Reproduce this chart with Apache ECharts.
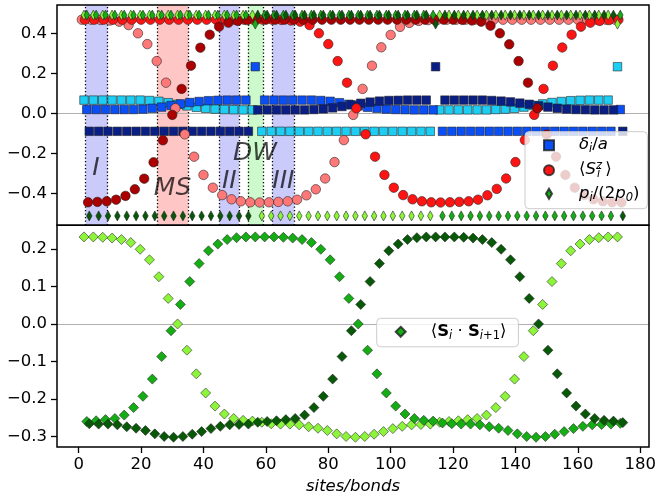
<!DOCTYPE html>
<html>
<head>
<meta charset="utf-8">
<script src="https://cdn.jsdelivr.net/npm/echarts@6/dist/echarts.min.js"></script>
<style>
  html, body { margin: 0; padding: 0; background: #fff; }
  #chart { width: 656px; height: 500px; }
</style>
</head>
<body>
<div id="chart"></div>
<script>
// x position of the first site / bond of each sublattice, one cell = 3 sites
const siteOffsets = [1, 2, 3];
const bondOffsets = [1.7, 2.6, 3.4];

// delta_i / a  (squares), one array per sublattice
const deltaC = [0.066, 0.066, 0.066, 0.066, 0.066, 0.066, 0.066,
  0.064, 0.060, 0.053, 0.045, 0.037, 0.030, 0.025, 0.021, 0.019, 0.018, 0.017, 0.017,
  -0.090, -0.090, -0.090, -0.090, -0.090, -0.090, -0.090, -0.090, -0.090, -0.090,
  -0.090, -0.090, -0.090, -0.090, -0.090, -0.090, -0.090, -0.090, -0.090,
  0.017, 0.017, 0.017, 0.017, 0.017, 0.017,
  0.019, 0.021, 0.025, 0.031, 0.039, 0.047, 0.054, 0.059, 0.063, 0.065, 0.066, 0.066, 0.066,
  0.233];
const deltaB = [0.019, 0.019, 0.019, 0.019, 0.019, 0.019,
  0.021, 0.025, 0.031, 0.039, 0.047, 0.054, 0.059, 0.063, 0.065, 0.066, 0.066, 0.066,
  0.233,
  0.066, 0.066, 0.066, 0.066, 0.066, 0.066,
  0.064, 0.060, 0.053, 0.045, 0.037, 0.030, 0.025, 0.021, 0.019, 0.018, 0.017, 0.017, 0.017,
  -0.090, -0.090, -0.090, -0.090, -0.090, -0.090, -0.090, -0.090, -0.090, -0.090,
  -0.090, -0.090, -0.090, -0.090, -0.090, -0.090, -0.090, -0.090, -0.090,
  0.019];
const deltaN = [-0.090, -0.090, -0.090, -0.090, -0.090, -0.090, -0.090, -0.090, -0.090,
  -0.090, -0.090, -0.090, -0.090, -0.090, -0.090, -0.090, -0.090, -0.090,
  0.017, 0.017, 0.017, 0.017, 0.017, 0.017,
  0.019, 0.022, 0.027, 0.034, 0.042, 0.050, 0.056, 0.061, 0.064, 0.065, 0.066, 0.066, 0.066,
  0.233,
  0.066, 0.066, 0.066, 0.066, 0.066,
  0.064, 0.061, 0.057, 0.051, 0.045, 0.038, 0.031, 0.025, 0.021, 0.019, 0.018, 0.017, 0.017, 0.017,
  -0.090];

// <S^z_i> (circles)
const szPink = [0.468, 0.468, 0.467, 0.464, 0.458, 0.441, 0.400, 0.346, 0.261, 0.153,
  0.025, -0.105, -0.217, -0.308, -0.372, -0.409, -0.430, -0.440, -0.445, -0.446,
  -0.445, -0.443, -0.440, -0.432, -0.410, -0.380, -0.326, -0.244, -0.134, -0.008,
  0.122, 0.238, 0.330, 0.392, 0.432, 0.452, 0.462, 0.466,
  0.468, 0.468, 0.468, 0.468, 0.468, 0.468, 0.468, 0.468, 0.468, 0.468,
  0.468, 0.468, 0.468, 0.468, 0.468, 0.468, 0.468, 0.468, 0.468, 0.468];
const szRed = [0.468, 0.468, 0.468, 0.468, 0.468, 0.468, 0.468, 0.468, 0.468, 0.468,
  0.468, 0.468, 0.468, 0.468, 0.468, 0.468, 0.468, 0.468, 0.468, 0.468, 0.468,
  0.467, 0.464, 0.458, 0.441, 0.400, 0.346, 0.261, 0.153, 0.025, -0.105,
  -0.217, -0.308, -0.372, -0.409, -0.430, -0.440, -0.445, -0.446, -0.445, -0.443,
  -0.440, -0.432, -0.410, -0.378, -0.326, -0.244, -0.134, -0.008, 0.122, 0.238,
  0.329, 0.393, 0.433, 0.453, 0.462, 0.466, 0.468];
const szDark = [-0.445, -0.443, -0.440, -0.432, -0.413, -0.380, -0.327, -0.245, -0.135,
  -0.008, 0.122, 0.238, 0.328, 0.393, 0.433, 0.453, 0.462, 0.466,
  0.468, 0.468, 0.468, 0.468, 0.468, 0.468, 0.468, 0.468, 0.468, 0.468, 0.468,
  0.468, 0.468, 0.468, 0.468, 0.468, 0.468, 0.468, 0.468, 0.468, 0.468, 0.468,
  0.467, 0.464,
  0.458, 0.438, 0.400, 0.345, 0.261, 0.153, 0.025, -0.106, -0.217, -0.308,
  -0.372, -0.409, -0.430, -0.440, -0.445, -0.446];

// p_i / (2 p_0) (thin diamonds)
const pLight = [0.491, 0.491, 0.491, 0.491, 0.491, 0.491, 0.491, 0.491, 0.491, 0.491,
  0.491, 0.491, 0.491, 0.491, 0.491, 0.491, 0.491, 0.491, 0.491,
  -0.513, -0.513, -0.513, -0.513, -0.513, -0.513, -0.513, -0.513, -0.513, -0.513,
  -0.513, -0.513, -0.513, -0.513, -0.513, -0.513, -0.513, -0.513, -0.513,
  0.491, 0.491, 0.491, 0.491, 0.491, 0.491, 0.491, 0.491, 0.491, 0.491,
  0.491, 0.491, 0.491, 0.491, 0.491, 0.491, 0.491, 0.491, 0.491,
  0.446];
const pMid = [0.491, 0.491, 0.491, 0.491, 0.491, 0.491, 0.491, 0.491, 0.491,
  0.491, 0.491, 0.491, 0.491, 0.491, 0.491, 0.491, 0.491, 0.491,
  0.446,
  0.491, 0.491, 0.491, 0.491, 0.491, 0.491, 0.491, 0.491, 0.491, 0.491,
  0.491, 0.491, 0.491, 0.491, 0.491, 0.491, 0.491, 0.491, 0.491,
  -0.513, -0.513, -0.513, -0.513, -0.513, -0.513, -0.513, -0.513, -0.513, -0.513,
  -0.513, -0.513, -0.513, -0.513, -0.513, -0.513, -0.513, -0.513, -0.513,
  0.491];
const pDark = [-0.513, -0.513, -0.513, -0.513, -0.513, -0.513, -0.513, -0.513, -0.513,
  -0.513, -0.513, -0.513, -0.513, -0.513, -0.513, -0.513, -0.513, -0.513,
  0.491, 0.491, 0.491, 0.491, 0.491, 0.491, 0.491, 0.491, 0.491, 0.491,
  0.491, 0.491, 0.491, 0.491, 0.491, 0.491, 0.491, 0.491, 0.491,
  0.446,
  0.491, 0.491, 0.491, 0.491, 0.491, 0.491, 0.491, 0.491, 0.491, 0.491,
  0.491, 0.491, 0.491, 0.491, 0.491, 0.491, 0.491, 0.491, 0.491,
  -0.513];

// <S_i . S_i+1> on the bonds (lower panel)
const bondLight = [0.232, 0.232, 0.231, 0.229, 0.225, 0.217, 0.199, 0.171, 0.126, 0.068,
  0.000, -0.070, -0.133, -0.184, -0.219, -0.240, -0.252, -0.257, -0.259,
  -0.262, -0.266, -0.267, -0.267, -0.269, -0.274, -0.278, -0.284, -0.293, -0.300,
  -0.302, -0.300, -0.294, -0.287, -0.279, -0.273, -0.269, -0.268, -0.267,
  -0.262, -0.260, -0.258, -0.255, -0.252, -0.243, -0.223, -0.193, -0.147, -0.087,
  -0.018, 0.052, 0.113, 0.161, 0.195, 0.213, 0.225, 0.230, 0.232, 0.232];
const bondMid = [-0.260, -0.258, -0.255, -0.252, -0.243, -0.223, -0.193, -0.147, -0.087,
  -0.018, 0.052, 0.113, 0.161, 0.195, 0.213, 0.225, 0.230, 0.232, 0.232,
  0.232, 0.232, 0.231, 0.229, 0.225, 0.217, 0.199, 0.171, 0.126, 0.068,
  0.000, -0.070, -0.133, -0.184, -0.219, -0.240, -0.252, -0.257, -0.259,
  -0.264, -0.266, -0.267, -0.267, -0.269, -0.274, -0.278, -0.284, -0.293, -0.300,
  -0.302, -0.300, -0.294, -0.287, -0.279, -0.273, -0.269, -0.268, -0.267, -0.265];
const bondDark = [-0.266, -0.267, -0.267, -0.269, -0.274, -0.278, -0.284, -0.293, -0.300,
  -0.302, -0.300, -0.294, -0.287, -0.279, -0.273, -0.269, -0.268, -0.267,
  -0.262, -0.260, -0.258, -0.255, -0.252, -0.243, -0.223, -0.193, -0.147, -0.087,
  -0.018, 0.052, 0.113, 0.161, 0.195, 0.213, 0.225, 0.230, 0.232, 0.232,
  0.232, 0.232, 0.231, 0.229, 0.225, 0.217, 0.199, 0.171, 0.126, 0.068,
  0.000, -0.070, -0.133, -0.184, -0.219, -0.240, -0.252, -0.257, -0.259, -0.263];

// tick labels
const xTicks = [0, 20, 40, 60, 80, 100, 120, 140, 160, 180];
const yTicksTop = [-0.4, -0.2, 0, 0.2, 0.4];
const yTicksBottom = [-0.3, -0.2, -0.1, 0, 0.1, 0.2];

// shaded regions of the upper panel: [from, to, colour]
const regions = [
  [2.2, 9.3, '#cacafb'],
  [25.2, 35.2, '#ffc6c6'],
  [45.1, 51.4, '#cacafb'],
  [54.2, 59.2, '#ccfacc'],
  [62.1, 69.1, '#cacafb']
];
const regionNames = ['I', 'MS', 'II', 'DW', 'III'];
const regionNameX = [5.5, 30.1, 48.3, 56.5, 65.6];
const regionNameY = [-0.274, -0.378, -0.342, -0.2, -0.342];

const FONT = 'DejaVu Sans';
const sqColors = ['#1ccdf4', '#0a4ef5', '#0a1f86'];
const circColors = ['#ff7878', '#ff1414', '#ac0000'];
const diaColors = ['#8cf53a', '#14ad14', '#075807'];

const gridTop = { left: 57, top: 5, width: 592, height: 220.3 };
const gridBottom = { left: 57, top: 225.3, width: 592, height: 221.7 };

function scatter(name, grid, offset, values, symbol, size, color, z) {
    return {
        name: name,
        type: 'scatter',
        xAxisIndex: grid,
        yAxisIndex: grid,
        data: values.map((v, k) => [offset + 3 * k, v]),
        symbol: symbol,
        symbolSize: size,
        z: z,
        silent: true,
        emphasis: { disabled: true },
        itemStyle: { color: color, borderColor: 'rgba(30,30,30,0.8)', borderWidth: 0.7, opacity: 1 }
    };
}

const thinDiamond = [5.5, 10];
const series = [
    scatter('dC', 0, bondOffsets[0], deltaC, 'rect', 8.5, sqColors[0], 2),
    scatter('dB', 0, bondOffsets[1], deltaB, 'rect', 8.5, sqColors[1], 2),
    scatter('dN', 0, bondOffsets[2], deltaN, 'rect', 8.5, sqColors[2], 2),
    scatter('sP', 0, siteOffsets[0], szPink, 'circle', 9.5, circColors[0], 3),
    scatter('sR', 0, siteOffsets[1], szRed, 'circle', 9.5, circColors[1], 3),
    scatter('sD', 0, siteOffsets[2], szDark, 'circle', 9.5, circColors[2], 3),
    scatter('pL', 0, bondOffsets[0], pLight, 'diamond', thinDiamond, diaColors[0], 4),
    scatter('pM', 0, bondOffsets[1], pMid, 'diamond', thinDiamond, diaColors[1], 4),
    scatter('pD', 0, bondOffsets[2], pDark, 'diamond', thinDiamond, diaColors[2], 4),
    scatter('bL', 1, bondOffsets[0], bondLight, 'diamond', 10, diaColors[0], 2),
    scatter('bM', 1, bondOffsets[1], bondMid, 'diamond', 10, diaColors[1], 2),
    scatter('bD', 1, bondOffsets[2], bondDark, 'diamond', 10, diaColors[2], 2)
];

// shaded regions, their dotted borders and the zero line of the upper panel
const dotted = { color: '#000', width: 1.3, type: [1.3, 2.2] };
const zeroLine = { color: '#b0b0b0', width: 1.2, type: 'solid' };
series[0].markArea = {
    silent: true,
    z: 1,
    data: regions.map(r => [{ xAxis: r[0], itemStyle: { color: r[2], opacity: 1 } }, { xAxis: r[1] }])
};
series[0].markLine = {
    silent: true,
    z: 1.5,
    symbol: 'none',
    label: { show: false },
    data: [{ yAxis: 0, lineStyle: zeroLine }].concat(
        regions.flatMap(r => [{ xAxis: r[0], lineStyle: dotted }, { xAxis: r[1], lineStyle: dotted }]))
};
series[9].markLine = {
    silent: true,
    z: 1,
    symbol: 'none',
    label: { show: false },
    data: [{ yAxis: 0, lineStyle: zeroLine }]
};

const rich = {
    sp: { width: 20 },
    n: { fontSize: 16.5, fontFamily: FONT, lineHeight: 20, color: '#000' },
    it: { fontSize: 16.5, fontFamily: FONT, fontStyle: 'italic', lineHeight: 20, color: '#000' },
    b: { fontSize: 16.5, fontFamily: FONT, fontWeight: 'bold', lineHeight: 20, color: '#000' },
    sub: { fontSize: 11.5, fontFamily: FONT, fontStyle: 'italic', lineHeight: 11, verticalAlign: 'bottom', color: '#000' },
    subn: { fontSize: 11.5, fontFamily: FONT, lineHeight: 11, verticalAlign: 'bottom', color: '#000' },
    sup: { fontSize: 11.5, fontFamily: FONT, fontStyle: 'italic', lineHeight: 11, verticalAlign: 'top', width: 1, color: '#000' }
};
const legendText = {
    dB: '{sp| }{it|δ}{sub|i}{n|/}{it|a}',
    sR: '{sp| }{n|⟨}{it|S}{sup|z}{sub|i}{n| ⟩}',
    pM: '{sp| }{it|p}{sub|i}{n|/(2}{it|p}{sub|0}{n|)}',
    bM: '{sp| }{n|⟨}{b|S}{sub|i}{n| · }{b|S}{sub|i}{subn|+1}{n|⟩}'
};
const legendBase = {
    orient: 'vertical',
    selectedMode: false,
    itemWidth: 10,
    itemHeight: 10,
    itemGap: 5,
    backgroundColor: 'rgba(255,255,255,0.8)',
    borderColor: '#cccccc',
    borderWidth: 1,
    borderRadius: 4,
    z: 10,
    formatter: name => legendText[name],
    textStyle: { rich: rich }
};

function yAxis(grid, min, max, ticks) {
    return {
        type: 'value',
        gridIndex: grid,
        min: min,
        max: max,
        axisLine: { show: false, onZero: false },
        splitLine: { show: false },
        axisTick: { show: true, length: 6, lineStyle: { color: '#000', width: 1.3 }, customValues: ticks },
        axisLabel: {
            margin: 10, fontSize: 16.5, fontFamily: FONT, color: '#000', customValues: ticks,
            formatter: v => (v < -1e-9 ? '\u2212' : '') + Math.abs(v).toFixed(1)
        }
    };
}

const option = {
    animation: false,
    backgroundColor: '#fff',
    grid: [
        Object.assign({ show: true, borderColor: '#000', borderWidth: 1.5, z: 5, outerBoundsMode: 'none' }, gridTop),
        Object.assign({ show: true, borderColor: '#000', borderWidth: 1.5, z: 5, outerBoundsMode: 'none' }, gridBottom)
    ],
    xAxis: [
        {
            type: 'value', gridIndex: 0, min: -6.95, max: 182.8,
            axisLine: { show: false, onZero: false },
            axisTick: { show: false }, axisLabel: { show: false }, splitLine: { show: false }
        },
        {
            type: 'value', gridIndex: 1, min: -6.95, max: 182.8,
            axisLine: { show: false, onZero: false },
            splitLine: { show: false },
            axisTick: { show: true, length: 6, lineStyle: { color: '#000', width: 1.3 }, customValues: xTicks },
            axisLabel: { margin: 9, fontSize: 16.5, fontFamily: FONT, color: '#000', customValues: xTicks },
            name: 'sites/bonds',
            nameLocation: 'middle',
            nameGap: 31,
            nameTextStyle: { fontSize: 16.5, fontFamily: FONT, fontStyle: 'italic', color: '#000' }
        }
    ],
    yAxis: [
        yAxis(0, -0.56, 0.5415, yTicksTop),
        yAxis(1, -0.328, 0.263, yTicksBottom)
    ],
    legend: [
        Object.assign({}, legendBase, {
            left: 525, top: 131.7, padding: [5, 8, 5, 18],
            data: [
                { name: 'dB', icon: 'rect' },
                { name: 'sR', icon: 'circle' },
                { name: 'pM', icon: 'path://M3,0L6,5L3,10L0,5Z' }
            ]
        }),
        Object.assign({}, legendBase, {
            left: 376.7, top: 318.3, padding: [5, 12, 5, 18],
            data: [{ name: 'bM', icon: 'diamond' }]
        })
    ],
    series: series
};

const chart = echarts.init(document.getElementById('chart'));
chart.setOption(option);

// region names (I, MS, II, DW, III) placed in data coordinates of the upper panel
chart.setOption({
    graphic: regionNames.map((t, i) => {
        const p = chart.convertToPixel({ xAxisIndex: 0, yAxisIndex: 0 }, [regionNameX[i], regionNameY[i]]);
        return {
            type: 'text',
            x: p[0],
            y: p[1],
            z: 6,
            silent: true,
            style: {
                text: t,
                fontSize: 25,
                fontStyle: 'italic',
                fontFamily: FONT,
                fill: 'rgba(0,0,0,0.72)',
                align: 'center',
                verticalAlign: 'middle'
            }
        };
    })
});
</script>
</body>
</html>
